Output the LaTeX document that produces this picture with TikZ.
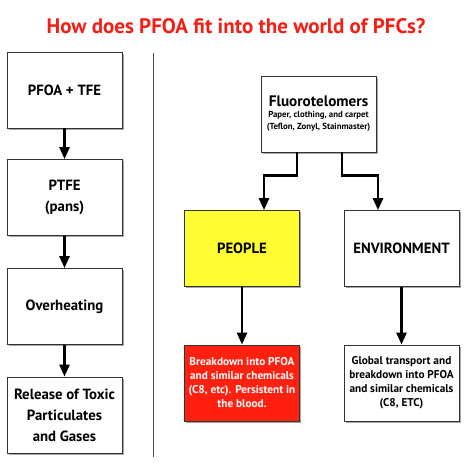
\documentclass[tikz,border=0pt]{standalone}
\usepackage{fontspec}
\setmainfont{PT Sans}
\usepackage{tikz}
\usetikzlibrary{positioning,arrows.meta,shadows}
\definecolor{titlered}{HTML}{F41E14}
\definecolor{boxred}{HTML}{FF2010}
\definecolor{boxyellow}{HTML}{FFFF33}
\tikzset{
  box/.style={draw=black!80,line width=0.8pt,fill=white,minimum width=115pt,minimum height=76pt,
    align=center,font=\bfseries\fontsize{14.8}{21}\selectfont,
    drop shadow={shadow xshift=1.6pt,shadow yshift=-1.6pt,fill=black!35,opacity=1}},
  smallbox/.style={box,font=\bfseries\fontsize{11.3}{14}\selectfont},
  conn/.style={-{Triangle[width=10pt,length=12pt]},line width=2.6pt}
}
\begin{document}
\begin{tikzpicture}[x=1pt,y=1pt]
\useasboundingbox (0,0) rectangle (470,-465);
\node[text=titlered,font=\bfseries\fontsize{21}{24}\selectfont] (title) at (236,-26) {How does PFOA fit into the world of PFCs?};
% left column
\node[box] (pfoa) at (64.5,-90) {PFOA + TFE};
\node[box] (ptfe) at (64.5,-197.5) {PTFE\\(pans)};
\node[box] (heat) at (64.5,-306.5) {Overheating};
\node[box] (toxic) at (64.5,-415) {Release of Toxic\\Particulates\\and Gases};
\draw[conn] (pfoa) -- (ptfe);
\draw[conn] (ptfe) -- (heat);
\draw[conn] (heat) -- (toxic);
% divider
\draw[black!70,line width=0.6pt] (153,-53) -- (153,-457);
% right side
\node[box,font=\bfseries\fontsize{8.8}{12}\selectfont] (fluoro) at (318.5,-114) {{\fontsize{15.2}{18}\selectfont Fluorotelomers}\\[-1pt]
  Paper, clothing, and carpet\\(Teflon, Zonyl, Stainmaster)};
\node[box,fill=boxyellow] (people) at (242,-248.5) {PEOPLE};
\node[box] (env) at (401.5,-248.5) {ENVIRONMENT};
\node[smallbox,fill=boxred,text=white] (blood) at (242,-383) {Breakdown into PFOA\\and similar chemicals\\(C8, etc). Persistent in\\the blood.};
\node[smallbox] (global) at (401.5,-383) {Global transport and\\breakdown into PFOA\\and similar chemicals\\(C8, ETC)};
\draw[conn] ([xshift=-21.5pt]fluoro.south) -- ++(0,-23) -| ([xshift=22pt]people.north);
\draw[conn] ([xshift=23.5pt]fluoro.south) -- ++(0,-23) -| ([xshift=-23.5pt]env.north);
\draw[conn] (people) -- (blood);
\draw[conn] (env) -- (global);
\end{tikzpicture}
\end{document}
